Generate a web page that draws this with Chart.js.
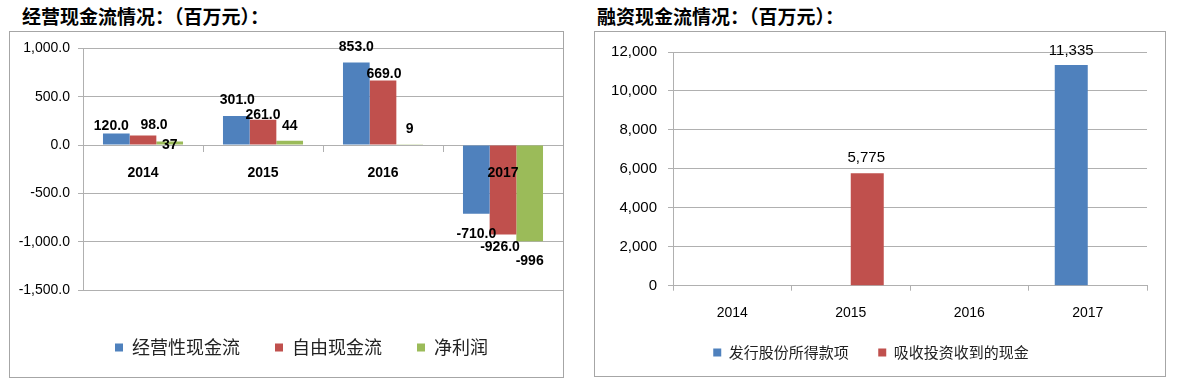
<!DOCTYPE html>
<html>
<head>
<meta charset="utf-8">
<script src="https://cdn.jsdelivr.net/npm/chart.js@4"></script>
<style>
html, body { margin: 0; padding: 0; background: #fff; overflow: hidden; }
body { width: 1178px; height: 385px; position: relative; }
.title { position: absolute; top: 2px; line-height: 22px; font: bold 19px "Noto Sans CJK SC", sans-serif; color: #000; white-space: nowrap; }
.box { position: absolute; border: 1px solid #a6a6a6; }
canvas { position: absolute; }
</style>
</head>
<body>
<div class="title" style="left:22px">经营现金流情况：（百万元）：</div>
<div class="title" style="left:597px">融资现金流情况：（百万元）：</div>
<div class="box" style="left:9px;top:31px;width:553px;height:345px"></div>
<div class="box" style="left:594px;top:31px;width:570px;height:344px"></div>
<canvas id="opChart" width="553" height="341" style="left:10px;top:32px"></canvas>
<canvas id="finChart" width="569" height="358" style="left:595px;top:32px"></canvas>
<script>
// data
const years = ['2014', '2015', '2016', '2017'];
const opCashFlow = [120.0, 301.0, 853.0, -710.0];
const freeCashFlow = [98.0, 261.0, 669.0, -926.0];
const netProfit = [37, 44, 9, -996];
const opTicks = { min: -1500, max: 1000, step: 500 };

const shareIssue = [null, null, null, 11335];
const investCash = [null, 5775, null, null];
const finTicks = { min: 0, max: 12000, step: 2000 };

const BLUE = '#4F81BD', RED = '#C0504D', GREEN = '#9BBB59';
const GRID = '#b0b0b0';
const LATIN = '"Liberation Sans", Arial, sans-serif';
const CJK = '"Noto Sans CJK SC", sans-serif';

// value labels on the bars, nudged like the excel original
const barLabels = {
    id: 'barLabels',
    afterDatasetsDraw(chart, args, opts) {
        const ctx = chart.ctx;
        ctx.save();
        ctx.font = opts.font;
        ctx.fillStyle = '#000';
        ctx.textAlign = 'center';
        ctx.textBaseline = 'middle';
        chart.data.datasets.forEach((ds, i) => {
            const meta = chart.getDatasetMeta(i);
            meta.data.forEach((bar, j) => {
                const v = ds.data[j];
                if (v === null || v === undefined) return;
                const n = (opts.nudge && opts.nudge[i][j]) || [0, v < 0 ? 20 : -15];
                const d = opts.decimals[i];
                const txt = v.toLocaleString('en-US', { minimumFractionDigits: d, maximumFractionDigits: d });
                ctx.fillText(txt, bar.x + n[0], bar.y + n[1]);
            });
        });
        ctx.restore();
    }
};

// move the legend box after layout (padding also sets the gap between items)
const legendShift = {
    id: 'legendShift',
    afterLayout(chart, args, opts) {
        const lg = chart.legend;
        lg.left += opts.dx; lg.right += opts.dx;
        lg.top += opts.dy; lg.bottom += opts.dy;
    }
};

new Chart(document.getElementById('opChart'), {
    type: 'bar',
    data: {
        labels: years,
        datasets: [
            { label: '经营性现金流', data: opCashFlow, backgroundColor: BLUE, borderWidth: 0 },
            { label: '自由现金流', data: freeCashFlow, backgroundColor: RED, borderWidth: 0 },
            { label: '净利润', data: netProfit, backgroundColor: GREEN, borderWidth: 0 }
        ]
    },
    plugins: [barLabels, legendShift],
    options: {
        responsive: false,
        animation: false,
        devicePixelRatio: 1,
        categoryPercentage: 0.667,
        barPercentage: 1.0,
        layout: { padding: { top: 16, left: 0, right: 0, bottom: 20 } },
        scales: {
            x: {
                position: { y: 0 },
                grid: { drawOnChartArea: false, tickLength: 6, color: GRID },
                border: { color: GRID },
                ticks: { z: 1, color: '#000', padding: 14, font: { family: LATIN, size: 14, weight: 'bold' } }
            },
            y: {
                min: opTicks.min, max: opTicks.max,
                afterFit: (s) => { s.width = 73; },
                grid: { color: GRID, tickLength: 5 },
                border: { color: GRID },
                ticks: {
                    stepSize: opTicks.step, color: '#000', padding: 8,
                    font: { family: LATIN, size: 14 },
                    callback: (v) => v.toLocaleString('en-US', { minimumFractionDigits: 1, maximumFractionDigits: 1 })
                }
            }
        },
        plugins: {
            tooltip: { enabled: false },
            legend: {
                position: 'bottom',
                labels: { boxWidth: 8, boxHeight: 8, padding: 35, color: '#222', font: { family: CJK, size: 18 } }
            },
            legendShift: { dx: 15, dy: 13.5 },
            barLabels: {
                font: 'bold 14px ' + LATIN,
                decimals: [1, 1, 0],
                nudge: [
                    [[-5, -7], [1, -16], [0, -15], [0, 20]],
                    [[11, -10], [0, -5], [1, -6], [-3, 13]],
                    [[0, 4], [0, -15], [0, -15], [0, 20]]
                ]
            }
        }
    }
});

new Chart(document.getElementById('finChart'), {
    type: 'bar',
    data: {
        labels: years,
        datasets: [
            { label: '发行股份所得款项', data: shareIssue, backgroundColor: BLUE, borderWidth: 0 },
            { label: '吸收投资收到的现金', data: investCash, backgroundColor: RED, borderWidth: 0 }
        ]
    },
    plugins: [barLabels, legendShift],
    options: {
        responsive: false,
        animation: false,
        devicePixelRatio: 1,
        categoryPercentage: 0.557,
        barPercentage: 1.0,
        layout: { padding: { top: 16, left: 0, right: 17, bottom: 0 } },
        scales: {
            x: {
                grid: { drawOnChartArea: false, tickLength: 5, color: GRID },
                border: { color: GRID },
                ticks: { color: '#000', padding: 14, font: { family: LATIN, size: 14 } }
            },
            y: {
                min: finTicks.min, max: finTicks.max,
                afterFit: (s) => { s.width = 78; },
                grid: { color: GRID, tickLength: 5 },
                border: { color: GRID },
                ticks: {
                    stepSize: finTicks.step, color: '#000', padding: 11,
                    font: { family: LATIN, size: 15 },
                    callback: (v) => v.toLocaleString('en-US')
                }
            }
        },
        plugins: {
            tooltip: { enabled: false },
            legend: {
                position: 'bottom',
                labels: { boxWidth: 8, boxHeight: 8, padding: 29.5, color: '#222', font: { family: CJK, size: 15 } }
            },
            legendShift: { dx: 0, dy: -20 },
            barLabels: {
                font: '15px ' + LATIN,
                decimals: [0, 0],
                nudge: [
                    [null, null, null, [0, -14]],
                    [null, [-1, -15], null, null]
                ]
            }
        }
    }
});
</script>
</body>
</html>
